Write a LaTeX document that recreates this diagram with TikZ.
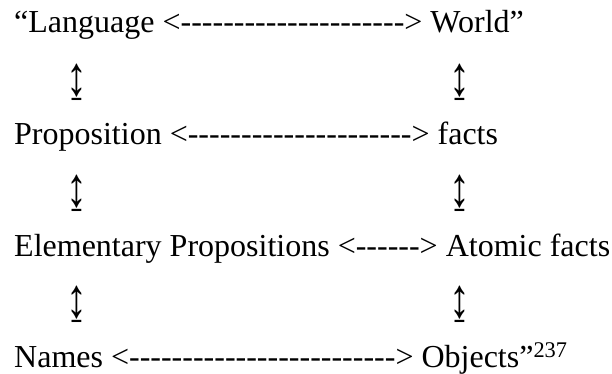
\documentclass[tikz,border=0pt]{standalone}
\usepackage{fontspec}
\newfontfamily\wordfont{Liberation Serif}
\usetikzlibrary{positioning}
\newcommand{\updownsign}{\scalebox{1.3}[1.75]{↨}}

\begin{document}
\begin{tikzpicture}[x=1pt,y=1pt,
	textline/.style={anchor=base west,inner sep=0pt,font=\wordfont\fontsize{32}{38}\selectfont},
	updown/.style={anchor=center,inner sep=0pt,font=\wordfont\fontsize{32}{38}\selectfont}]
	\useasboundingbox (0,0) rectangle (612,-374);
	% the four lines
	\node[textline] (language) at (14,-33) {“Language <---------------------> World”};
	\node[textline] (proposition) at (14,-144.5) {Proposition <---------------------> facts};
	\node[textline] (elementary) at (14,-256) {Elementary Propositions <------> Atomic facts};
	\node[textline] (names) at (14,-367) {Names <-------------------------> Objects”\textsuperscript{237}};
	% up-down signs between them
	\node[updown] (langprop) at (77,-82) {\updownsign};
	\node[updown] (worldfacts) at (460,-82) {\updownsign};
	\node[updown] (propelem) at (77,-193.3) {\updownsign};
	\node[updown] (factsatomic) at (460,-193.3) {\updownsign};
	\node[updown] (elemnames) at (77,-304.6) {\updownsign};
	\node[updown] (atomicobj) at (460,-304.6) {\updownsign};
\end{tikzpicture}
\end{document}
